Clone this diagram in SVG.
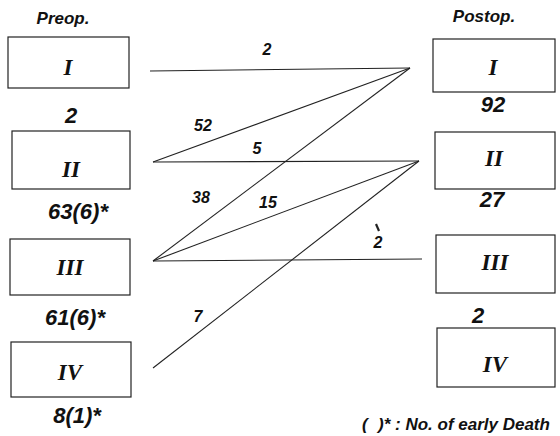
<svg xmlns="http://www.w3.org/2000/svg" width="560" height="436" viewBox="0 0 560 436">
<style>
.box{fill:#fff;stroke:#222;stroke-width:1.2}
.rn{font-family:"Liberation Serif",serif;font-weight:bold;font-style:italic;font-size:23px;text-anchor:middle;fill:#111}
.hd{font-family:"Liberation Sans",sans-serif;font-weight:bold;font-style:italic;font-size:17px;text-anchor:middle;fill:#111}
.ct{font-family:"Liberation Sans",sans-serif;font-weight:bold;font-style:italic;font-size:22px;text-anchor:middle;fill:#111}
.lb{font-family:"Liberation Sans",sans-serif;font-weight:bold;font-style:italic;font-size:16px;text-anchor:middle;fill:#111}
.lg{font-family:"Liberation Sans",sans-serif;font-weight:bold;font-style:italic;font-size:17px;fill:#111}
.cn line{stroke:#222;stroke-width:1.1}
</style>
<rect width="560" height="436" fill="#fff"/>
<text class="hd" x="63" y="24">Preop.</text>
<text class="hd" x="484" y="22">Postop.</text>
<g id="pre1"><rect class="box" x="8" y="37" width="121" height="51"/><text class="rn" x="68" y="75">I</text></g>
<g id="pre2"><rect class="box" x="12" y="131" width="118" height="58"/><text class="rn" x="71" y="177">II</text></g>
<g id="pre3"><rect class="box" x="10" y="239" width="120" height="56"/><text class="rn" x="70" y="275">III</text></g>
<g id="pre4"><rect class="box" x="11" y="342" width="120" height="55"/><text class="rn" x="70" y="380">IV</text></g>
<g id="post1"><rect class="box" x="433" y="39" width="122" height="53"/><text class="rn" x="493" y="75">I</text></g>
<g id="post2"><rect class="box" x="435" y="132" width="120" height="57"/><text class="rn" x="494" y="166">II</text></g>
<g id="post3"><rect class="box" x="436" y="235" width="119" height="58"/><text class="rn" x="495" y="270">III</text></g>
<g id="post4"><rect class="box" x="437" y="328" width="118" height="59"/><text class="rn" x="495" y="372">IV</text></g>
<text class="ct" x="71" y="123">2</text>
<text class="ct" x="78" y="219">63(6)*</text>
<text class="ct" x="75" y="325">61(6)*</text>
<text class="ct" x="77" y="423">8(1)*</text>
<text class="ct" x="493" y="112">92</text>
<text class="ct" x="492" y="207">27</text>
<text class="ct" x="478" y="323">2</text>
<text class="lg" x="362" y="430">(</text>
<text class="lg" x="378" y="430">)* : No. of early Death</text>
<g id="connectors" class="cn">
<line x1="150" y1="71" x2="410" y2="68"/>
<line x1="153" y1="162" x2="410" y2="68"/>
<line x1="153" y1="261" x2="410" y2="68"/>
<line x1="153" y1="162" x2="419" y2="161"/>
<line x1="153" y1="261" x2="419" y2="161"/>
<line x1="153" y1="368" x2="419" y2="161"/>
<line x1="153" y1="261" x2="422" y2="259"/>
<line x1="376" y1="224" x2="379" y2="231" style="stroke-width:2.2"/>
</g>
<text class="lb" x="267" y="55">2</text>
<text class="lb" x="203" y="131">52</text>
<text class="lb" x="257" y="154">5</text>
<text class="lb" x="201" y="203">38</text>
<text class="lb" x="268" y="208">15</text>
<text class="lb" x="378" y="248">2</text>
<text class="lb" x="198" y="322">7</text>
</svg>
